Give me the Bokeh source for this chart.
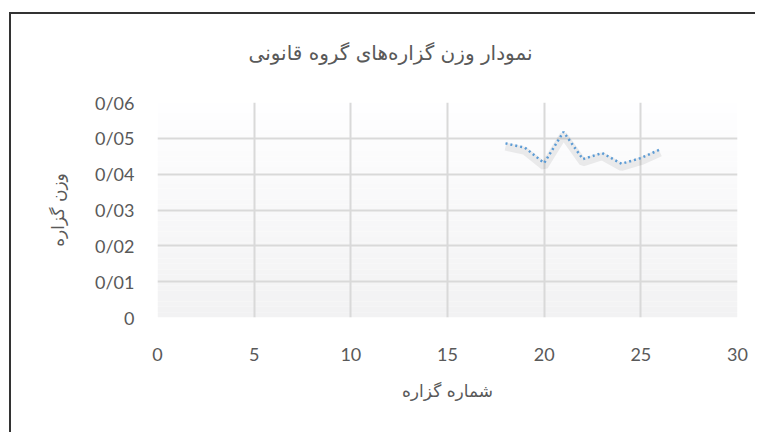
from bokeh.plotting import figure
from bokeh.models import CustomJSTickFormatter, FixedTicker, Range1d, BoxAnnotation, ColumnDataSource
from bokeh.transform import dodge
from bokeh.embed import file_html
from bokeh.resources import INLINE

# ---- data ----
statement_no = [18, 19, 20, 21, 22, 23, 24, 25, 26]
weight = [0.0486, 0.0474, 0.0431, 0.0518, 0.0442, 0.0459, 0.0429, 0.0445, 0.0469]
x_ticks = [0, 5, 10, 15, 20, 25, 30]
y_ticks = [0, 0.01, 0.02, 0.03, 0.04, 0.05, 0.06]
title_text = "نمودار وزن گزاره‌های گروه قانونی"
x_title = "شماره گزاره"
y_title = "وزن گزاره"

TXT = "#595959"
GRID = "#d9d9d9"
NUM_FONT = "Lato"
FA_FONT = "DejaVu Sans"

src = ColumnDataSource(dict(x=statement_no, y=weight))

p = figure(width=755, height=432, output_backend="svg", toolbar_location=None,
           x_range=Range1d(x_ticks[0], x_ticks[-1]), y_range=Range1d(y_ticks[0], y_ticks[-1]),
           min_border_left=157, min_border_right=18, min_border_top=102, min_border_bottom=115)

p.background_fill_color = "white"
p.border_fill_color = "white"
p.border_fill_alpha = 0.0
p.outline_line_color = None

# subtle vertical gradient in plot area
n = 40
for i in range(n):
    t = i / (n - 1)
    c = int(round(242 + (254 - 242) * t))
    col = "#%02x%02x%02x" % (c, c, min(255, c + 1))
    b = y_ticks[0] + (y_ticks[-1] - y_ticks[0]) * i / n
    tp = y_ticks[0] + (y_ticks[-1] - y_ticks[0]) * (i + 1) / n
    p.add_layout(BoxAnnotation(bottom=b, top=tp, fill_color=col, fill_alpha=1.0,
                               line_color=None, level="image"))

# title
p.title.text = title_text
p.title.align = "left"
p.title.offset = 91
p.title.text_font = FA_FONT
p.title.text_font_size = "20px"
p.title.text_font_style = "normal"
p.title.text_color = TXT
p.title.standoff = 76

# axes
for ax in (p.xaxis[0], p.yaxis[0]):
    ax.axis_line_color = None
    ax.major_tick_line_color = None
    ax.minor_tick_line_color = None
    ax.major_label_text_font = NUM_FONT
    ax.major_label_text_font_size = "18px"
    ax.major_label_text_color = TXT
    ax.axis_label_text_font = FA_FONT
    ax.axis_label_text_font_size = "17px"
    ax.axis_label_text_font_style = "normal"
    ax.axis_label_text_color = TXT

p.xaxis.ticker = FixedTicker(ticks=x_ticks)
p.yaxis.ticker = FixedTicker(ticks=y_ticks)
p.yaxis.formatter = CustomJSTickFormatter(code="""
    if (Math.abs(tick) < 1e-12) return "0";
    return tick.toFixed(2).replace(".", "/");
""")
p.xaxis.axis_label = x_title
p.yaxis.axis_label = y_title
p.xaxis.major_label_standoff = 24
p.xaxis.axis_label_standoff = 17
p.yaxis.major_label_standoff = 17
p.yaxis.axis_label_standoff = 24

p.xgrid.grid_line_color = GRID
p.ygrid.grid_line_color = GRID
p.xgrid.grid_line_width = 2
p.ygrid.grid_line_width = 2

# shadow + line
p.line(x="x", y=dodge("y", -0.0009, range=p.y_range), source=src, line_color="#000000",
       line_alpha=0.07, line_width=8)
p.line(x="x", y="y", source=src, line_color="#5b9bd5", line_width=2.5, line_dash="2 3")

# chart-area frame (left and top edges) drawn as page background behind a transparent canvas border
p.styles = {
    "background": ("linear-gradient(#333333, #333333) 9px 12px / 760px 2px no-repeat, "
                   "linear-gradient(#333333, #333333) 9px 12px / 2px 440px no-repeat, #ffffff"),
}

open("out.html", "w").write(file_html(p, INLINE))
